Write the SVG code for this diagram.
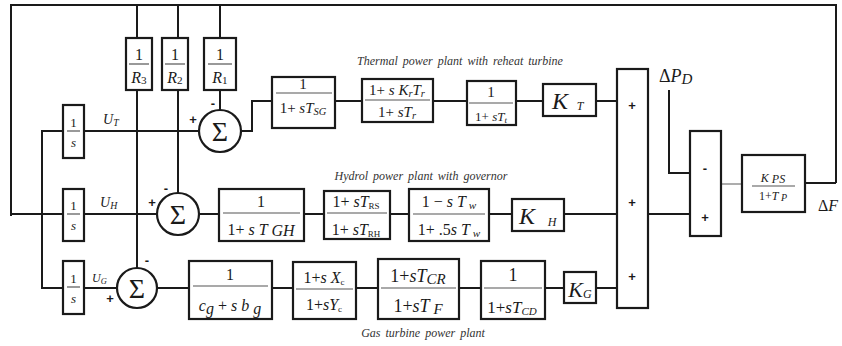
<svg xmlns="http://www.w3.org/2000/svg" width="842" height="346" viewBox="0 0 842 346">
<style>
.w{stroke:#1a1a1a;stroke-width:2;fill:none}
.b{stroke:#1a1a1a;stroke-width:2.2;fill:#fff}
.bar{stroke:#555;stroke-width:1.2}
text{font-family:"Liberation Serif","Times New Roman",serif;fill:#1a1a1a}
.f{font-size:16px;text-anchor:middle}
.fs{font-size:13px;text-anchor:middle}
.ft{font-size:15px;text-anchor:middle}
.i{font-style:italic}
.sg{font-family:"Liberation Sans",Arial,sans-serif;font-weight:bold;font-size:13px;text-anchor:middle}
.lab{font-family:"Liberation Serif","Times New Roman",serif;font-style:italic;font-size:12px;text-anchor:middle;fill:#333;word-spacing:2px}
.sub{font-size:0.7em}
</style>
<g id="connectors">
<path class="w" d="M836,183 V5 H11 V216"/>
<path class="w" d="M11,214 H63"/>
<path class="w" d="M137,5 V38 M178,5 V38 M220,5 V38"/>
<path class="w" d="M137,90 V268 M178,90 V193 M220,90 V110"/>
<path class="w" d="M63,131 H42 V288 H63"/>
<path class="w" d="M84,131 H199 M241,131 H252 V101 H272 M335,101 H362 M433,101 H467 M516,101 H543 M596,101 H617"/>
<path class="w" d="M84,214 H157 M199,214 H219 M304,214 H324 M390,214 H409 M489,214 H512 M564,214 H617"/>
<path class="w" d="M84,288 H117 M157,288 H189 M272,288 H293 M356,288 H378 M459,288 H481 M545,288 H564 M596,288 H617"/>
<path class="w" d="M648,214 H690 M669,90 V173 H690 M805,183 H836"/>
<path d="M721,184 H742" stroke="#777" stroke-width="1.2"/>
</g>
<g id="R3"><rect class="b" x="126" y="38" width="26" height="52"/><text class="f" x="139" y="60">1</text><line class="bar" x1="129" y1="64" x2="149" y2="64"/><text class="f" x="139" y="83"><tspan class="i">R</tspan><tspan class="sub" dy="1">3</tspan></text></g>
<g id="R2"><rect class="b" x="162" y="38" width="26" height="52"/><text class="f" x="175" y="60">1</text><line class="bar" x1="165" y1="64" x2="185" y2="64"/><text class="f" x="175" y="83"><tspan class="i">R</tspan><tspan class="sub" dy="1">2</tspan></text></g>
<g id="R1"><rect class="b" x="204" y="38" width="32" height="52"/><text class="f" x="220" y="60">1</text><line class="bar" x1="208" y1="64" x2="232" y2="64"/><text class="f" x="220" y="83"><tspan class="i">R</tspan><tspan class="sub" dy="1">1</tspan></text></g>
<g id="intT"><rect class="b" x="63" y="105" width="21" height="53"/><text class="fs" x="73.5" y="127">1</text><line class="bar" x1="67" y1="131" x2="80" y2="131"/><text class="fs i" x="73.5" y="147">s</text></g>
<g id="intH"><rect class="b" x="63" y="189" width="21" height="52"/><text class="fs" x="73.5" y="210">1</text><line class="bar" x1="67" y1="214" x2="80" y2="214"/><text class="fs i" x="73.5" y="230">s</text></g>
<g id="intG"><rect class="b" x="63" y="261" width="21" height="53"/><text class="fs" x="73.5" y="283">1</text><line class="bar" x1="67" y1="287" x2="80" y2="287"/><text class="fs i" x="73.5" y="303">s</text></g>
<g id="labelsU">
<text class="i" x="103" y="124" font-size="14">U<tspan class="sub" dy="2">T</tspan></text>
<text class="i" x="100" y="207" font-size="14">U<tspan class="sub" dy="2">H</tspan></text>
<text class="i" x="92" y="282" font-size="12">U<tspan class="sub" dy="2">G</tspan></text>
</g>
<g id="sumT"><circle class="b" cx="220" cy="131" r="21"/><text x="220" y="141" font-size="28" text-anchor="middle">Σ</text><text class="sg" x="193" y="124">+</text><text class="sg" x="213" y="108">-</text></g>
<g id="sumH"><circle class="b" cx="178" cy="214" r="21"/><text x="178" y="224" font-size="28" text-anchor="middle">Σ</text><text class="sg" x="152" y="207">+</text><text class="sg" x="166" y="193">-</text></g>
<g id="sumG"><circle class="b" cx="137" cy="288" r="20"/><text x="137" y="298" font-size="28" text-anchor="middle">Σ</text><text class="sg" x="110" y="303">+</text><text class="sg" x="147" y="265">-</text></g>
<g id="thermal1"><rect class="b" x="272" y="77" width="63" height="51"/><text class="ft" x="303" y="89">1</text><line class="bar" x1="276" y1="93" x2="332" y2="93"/><text class="ft" x="303" y="113">1+ <tspan class="i">sT</tspan><tspan class="sub i" dy="2">SG</tspan></text></g>
<g id="thermal2"><rect class="b" x="362" y="79" width="71" height="43"/><text class="ft" x="397" y="95">1+ <tspan class="i">s K</tspan><tspan class="sub i" dy="2">r</tspan><tspan class="i" dy="-2">T</tspan><tspan class="sub i" dy="2">r</tspan></text><line class="bar" x1="365" y1="100" x2="430" y2="100"/><text class="ft" x="397" y="117">1+ <tspan class="i">sT</tspan><tspan class="sub i" dy="2">r</tspan></text></g>
<g id="thermal3"><rect class="b" x="467" y="81" width="49" height="44"/><text class="ft" x="491" y="97">1</text><line class="bar" x1="469" y1="103" x2="513" y2="103"/><text class="fs" x="491" y="121">1+ <tspan class="i">sT</tspan><tspan class="sub i" dy="2">t</tspan></text></g>
<g id="KT"><rect class="b" x="543" y="84" width="53" height="32"/><text x="560" y="109" font-size="24" text-anchor="middle" font-style="italic">K</text><text x="580" y="110" font-size="12" font-style="italic" text-anchor="middle">T</text></g>
<g id="hydro1"><rect class="b" x="219" y="189" width="85" height="52"/><text class="f" x="261" y="207">1</text><line class="bar" x1="223" y1="213" x2="300" y2="213"/><text class="f" x="261" y="235">1+ <tspan class="i">s T</tspan><tspan class="i" dy="1"> GH</tspan></text></g>
<g id="hydro2"><rect class="b" x="324" y="191" width="66" height="48"/><text class="f" x="356" y="207">1+ <tspan class="i">sT</tspan><tspan font-size="9" dy="2">RS</tspan></text><line class="bar" x1="327" y1="213" x2="387" y2="213"/><text class="f" x="356" y="235">1+ <tspan class="i">sT</tspan><tspan font-size="9" dy="2">RH</tspan></text></g>
<g id="hydro3"><rect class="b" x="409" y="189" width="80" height="52"/><text class="f" x="449" y="207">1 − <tspan class="i">s T</tspan><tspan class="sub i" dy="2"> w</tspan></text><line class="bar" x1="413" y1="214" x2="485" y2="214"/><text class="f" x="449" y="235">1+ .5<tspan class="i">s T</tspan><tspan class="sub i" dy="2"> w</tspan></text></g>
<g id="KH"><rect class="b" x="512" y="199" width="52" height="32"/><text x="527" y="224" font-size="24" text-anchor="middle" font-style="italic">K</text><text x="552" y="226" font-size="12" font-style="italic" text-anchor="middle">H</text></g>
<g id="gas1"><rect class="b" x="189" y="261" width="83" height="58"/><text class="f" x="230" y="280">1</text><line class="bar" x1="193" y1="286" x2="268" y2="286"/><text class="f" x="230" y="311"><tspan class="i">c</tspan><tspan class="i" dy="3">g</tspan><tspan dy="-3"> + </tspan><tspan class="i">s b</tspan><tspan class="i" dy="3"> g</tspan></text></g>
<g id="gas2"><rect class="b" x="293" y="262" width="63" height="57"/><text class="f" x="324" y="283">1+<tspan class="i">s X</tspan><tspan font-size="9" dy="2">c</tspan></text><line class="bar" x1="296" y1="289" x2="353" y2="289"/><text class="f" x="324" y="310">1+<tspan class="i">sY</tspan><tspan font-size="9" dy="2">c</tspan></text></g>
<g id="gas3"><rect class="b" x="378" y="259" width="81" height="60"/><text x="418" y="282" font-size="18" text-anchor="middle">1+<tspan class="i">sT</tspan><tspan class="i" font-size="15" dy="2">CR</tspan></text><line class="bar" x1="381" y1="288" x2="456" y2="288"/><text x="418" y="312" font-size="18" text-anchor="middle">1+<tspan class="i">sT</tspan><tspan class="i" font-size="15" dy="2"> F</tspan></text></g>
<g id="gas4"><rect class="b" x="481" y="261" width="64" height="58"/><text x="513" y="281" font-size="18" text-anchor="middle">1</text><line class="bar" x1="484" y1="288" x2="542" y2="288"/><text x="512" y="313" font-size="17" text-anchor="middle">1+<tspan class="i">sT</tspan><tspan class="i" font-size="11" dy="2">CD</tspan></text></g>
<g id="KG"><rect class="b" x="564" y="272" width="32" height="31"/><text x="580" y="297" font-size="22" text-anchor="middle" font-style="italic">K<tspan font-size="12" dy="1">G</tspan></text></g>
<g id="sumBig"><rect class="b" x="617" y="69" width="31" height="239"/><text class="sg" x="632" y="110">+</text><text class="sg" x="632" y="207">+</text><text class="sg" x="632" y="281">+</text></g>
<g id="sumSmall"><rect class="b" x="690" y="131" width="31" height="105"/><text class="sg" x="705" y="173">-</text><text class="sg" x="705" y="222">+</text></g>
<g id="power"><rect class="b" x="742" y="155" width="63" height="57"/><text x="773" y="182" font-size="12" text-anchor="middle" font-style="italic">K<tspan dy="1"> PS</tspan></text><line class="bar" x1="752" y1="186" x2="795" y2="186"/><text x="773" y="200" font-size="12" text-anchor="middle">1+<tspan class="i">T</tspan><tspan class="i" font-size="10" dy="1"> P</tspan></text></g>
<g id="extLabels">
<text x="659" y="82" font-size="18">Δ<tspan class="i">P</tspan><tspan class="i" font-size="15" dy="2">D</tspan></text>
<text x="818" y="211" font-size="16">Δ<tspan class="i">F</tspan></text>
<text class="lab" x="460" y="65">Thermal power plant with reheat turbine</text>
<text class="lab" x="421" y="180">Hydrol power plant with governor</text>
<text class="lab" x="423" y="337">Gas turbine power plant</text>
</g>
</svg>
